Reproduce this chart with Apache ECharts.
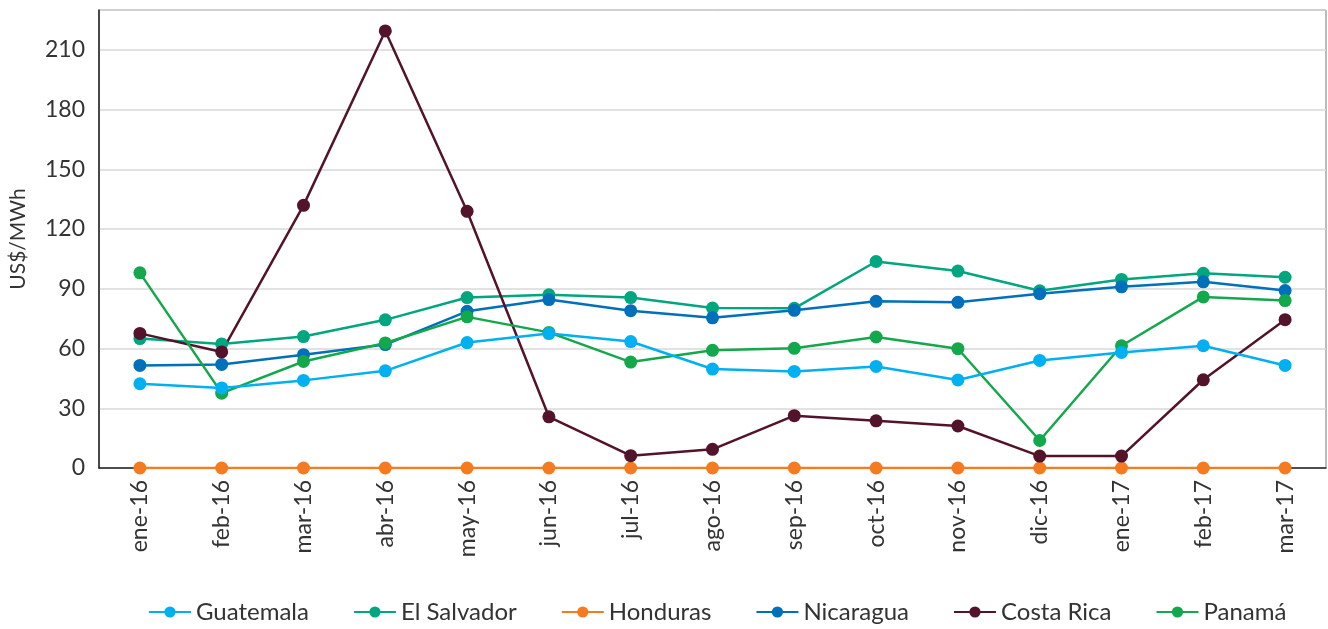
<!DOCTYPE html>
<html>
<head>
<meta charset="utf-8">
<script src="https://cdn.jsdelivr.net/npm/echarts@6/dist/echarts.min.js"></script>
<style>
  html, body { margin: 0; padding: 0; background: #fff; }
  #chart { width: 1328px; height: 629px; }
</style>
</head>
<body>
<div id="chart"></div>
<script>
// categorías y valores (US$/MWh)
var months = ['ene-16', 'feb-16', 'mar-16', 'abr-16', 'may-16', 'jun-16', 'jul-16', 'ago-16',
  'sep-16', 'oct-16', 'nov-16', 'dic-16', 'ene-17', 'feb-17', 'mar-17'];

var guatemala = [42.3, 40.2, 44.0, 48.8, 63.0, 67.5, 63.5, 49.7, 48.5, 51.0, 44.2, 54.0, 58.0, 61.4, 51.5];
var elSalvador = [65.0, 62.3, 66.0, 74.4, 85.6, 87.0, 85.6, 80.3, 80.2, 103.7, 98.9, 89.0, 94.7, 97.8, 95.8];
var honduras = [0, 0, 0, 0, 0, 0, 0, 0, 0, 0, 0, 0, 0, 0, 0];
var nicaragua = [51.5, 52.0, 56.9, 62.0, 78.7, 84.6, 79.0, 75.4, 79.2, 83.7, 83.2, 87.5, 91.0, 93.5, 89.1];
var costaRica = [67.6, 58.3, 131.9, 219.5, 128.9, 25.7, 6.2, 9.4, 26.3, 23.7, 21.1, 6.0, 6.0, 44.3, 74.5];
var panama = [98.0, 37.6, 53.5, 62.8, 75.9, 68.1, 53.2, 59.1, 60.1, 65.8, 59.9, 13.8, 61.4, 85.9, 84.1];

var seriesNames = ['Guatemala', 'El Salvador', 'Honduras', 'Nicaragua', 'Costa Rica', 'Panamá'];
var seriesData = [guatemala, elSalvador, honduras, nicaragua, costaRica, panama];
var colors = ['#00b0f0', '#00a67e', '#f47b20', '#0070ba', '#53132a', '#13a84b'];

var fontFam = 'Lato, "Noto Sans", sans-serif';

var chart = echarts.init(document.getElementById('chart'));

var series = seriesNames.map(function (name, i) {
    return {
        name: name,
        type: 'line',
        data: seriesData[i],
        symbol: 'circle',
        symbolSize: 13,
        lineStyle: { width: 2.5, color: colors[i] },
        itemStyle: { color: colors[i] },
        z: i === 0 ? 5 : 3
    };
});

var option = {
    animation: false,
    color: colors,
    textStyle: { fontFamily: fontFam },
    grid: {
        left: 99,
        right: 2,
        top: 10,
        bottom: 161,
        show: true,
        borderColor: '#777',
        borderWidth: 1
    },
    legend: {
        bottom: 0,
        left: 143,
        itemWidth: 42,
        itemHeight: 14,
        itemGap: 44,
        textStyle: { fontSize: 24, color: '#333', fontFamily: fontFam },
        data: seriesNames
    },
    xAxis: {
        type: 'category',
        data: months,
        boundaryGap: true,
        axisLine: { lineStyle: { color: '#222', width: 1.5 } },
        axisTick: { show: false },
        axisLabel: {
            rotate: 90,
            fontSize: 23,
            color: '#333',
            margin: 12,
            fontFamily: fontFam
        }
    },
    yAxis: {
        type: 'value',
        min: 0,
        max: 230,
        interval: 30,
        name: 'US$/MWh',
        nameLocation: 'middle',
        nameGap: 70,
        nameTextStyle: { fontSize: 21, color: '#333', fontFamily: fontFam },
        axisLine: { show: true, lineStyle: { color: '#222', width: 1.5 } },
        axisTick: { show: false },
        axisLabel: {
            fontSize: 23,
            color: '#333',
            margin: 14,
            showMaxLabel: false,
            fontFamily: fontFam
        },
        splitLine: { lineStyle: { color: '#d9d9d9', width: 1.5 } }
    },
    series: series
};

chart.setOption(option);
</script>
</body>
</html>
